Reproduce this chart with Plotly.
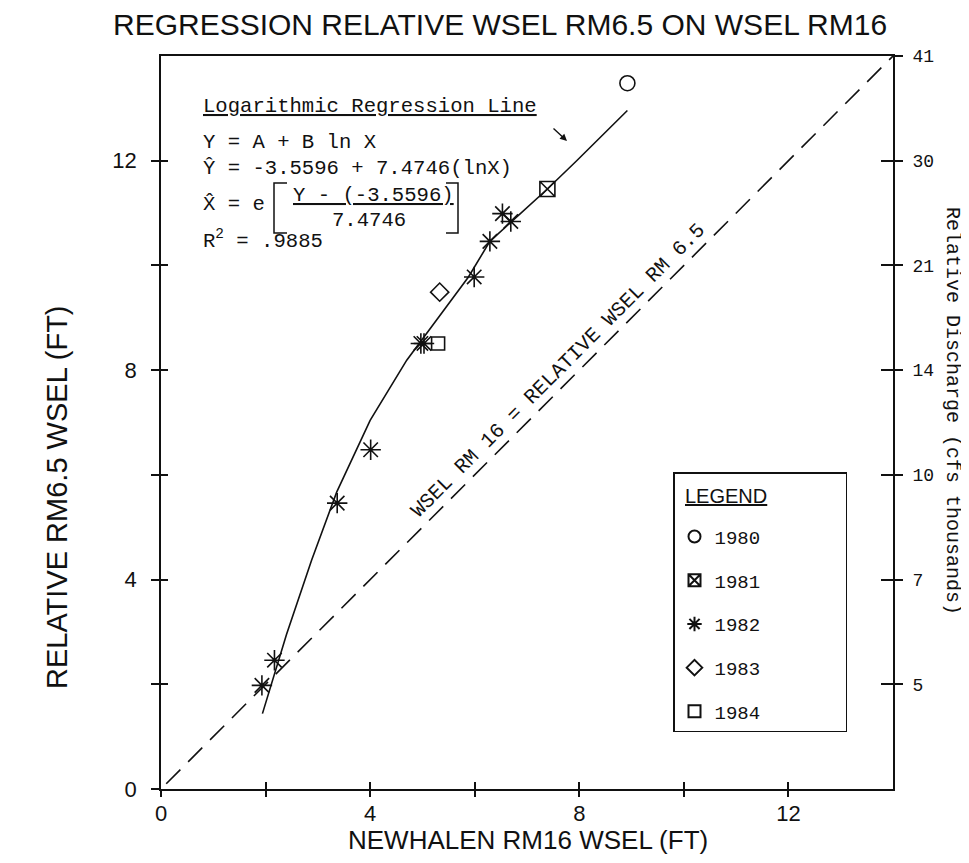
import plotly.graph_objects as go

# ---------------- data ----------------
Y1980_X = [8.92]
Y1980_Y = [13.48]
Y1981_X = [7.39]
Y1981_Y = [11.46]
Y1982_X = [1.93, 2.17, 3.37, 4.01, 4.97, 5.03, 5.99, 6.29, 6.53, 6.69]
Y1982_Y = [1.98, 2.46, 5.46, 6.48, 8.51, 8.51, 9.78, 10.46, 10.99, 10.84]
Y1983_X = [5.33]
Y1983_Y = [9.49]
Y1984_X = [5.30]
Y1984_Y = [8.51]

LINE_X = [1.94, 2.4, 2.88, 3.36, 4.0, 4.7, 5.88, 6.29, 7.39, 7.95, 8.92]
LINE_Y = [1.44, 2.95, 4.37, 5.67, 7.04, 8.19, 9.78, 10.46, 11.46, 12.0, 12.96]

DIAG_X = [0.1, 14]
DIAG_Y = [0.1, 14]

X_TICKS = [0, 2, 4, 6, 8, 10, 12]
X_LABELS = ["0", "", "4", "", "8", "", "12"]
Y_TICKS = [0, 2, 4, 6, 8, 10, 12]
Y_LABELS = ["0", "", "4", "", "8", "", "12"]
Q_TICKS = [2, 4, 6, 8, 10, 12, 14]
Q_LABELS = ["5", "7", "10", "14", "21", "30", "41"]

# ---------------- styling ----------------
BODY = 8                      # default page margin around the plot div
W, H = 969 - BODY, 863 - BODY
# plot area in screen pixels
SX0, SX1, SY0, SY1 = 161, 893, 56, 789
L, T = SX0 - BODY, SY0 - BODY
R, B = W - (SX1 - BODY), H - (SY1 - BODY)
PW, PH = SX1 - SX0, SY1 - SY0
SANS = "Liberation Sans, Arial, sans-serif"
MONO = "Liberation Mono, DejaVu Sans Mono, monospace"
BLACK = "#111111"


def px(xs):
    return (xs - SX0) / PW


def py(ys):
    return (SY1 - ys) / PH


fig = go.Figure()

fig.add_trace(go.Scatter(x=DIAG_X, y=DIAG_Y, mode="lines", showlegend=False,
                         line=dict(color=BLACK, width=1.6, dash="20px,11px"),
                         hoverinfo="skip"))
fig.add_trace(go.Scatter(x=LINE_X, y=LINE_Y, mode="lines", showlegend=False,
                         line=dict(color=BLACK, width=1.6), hoverinfo="skip"))

PAD = "\u00a0" * 7
series = [
    ("1980", Y1980_X, Y1980_Y, "circle-open", 15),
    ("1981", Y1981_X, Y1981_Y, "square-x-open", 15),
    ("1982", Y1982_X, Y1982_Y, "asterisk-open", 17),
    ("1983", Y1983_X, Y1983_Y, "diamond-open", 14),
    ("1984", Y1984_X, Y1984_Y, "square-open", 13),
]
for name, xs, ys, sym, sz in series:
    fig.add_trace(go.Scatter(
        x=xs, y=ys, mode="markers", name=name + PAD, legendgroup=name,
        marker=dict(symbol=sym, size=sz, color=BLACK,
                    line=dict(color=BLACK, width=1.6))))

# dummy traces to realise the overlay axes used for the other tick halves
fig.add_trace(go.Scatter(x=[], y=[], xaxis="x2", yaxis="y3", showlegend=False))
fig.add_trace(go.Scatter(x=[], y=[], xaxis="x", yaxis="y2", showlegend=False))
fig.add_trace(go.Scatter(x=[], y=[], xaxis="x", yaxis="y4", showlegend=False))

axis_common = dict(range=[0, 14], showgrid=False, zeroline=False,
                   linecolor=BLACK, linewidth=1.6, tickcolor=BLACK,
                   tickwidth=1.6)

fig.update_layout(
    width=W, height=H,
    margin=dict(l=L, r=R, t=T, b=B),
    paper_bgcolor="white", plot_bgcolor="white",
    xaxis=dict(**axis_common, showline=True, mirror=True, ticks="inside",
               ticklen=7, tickmode="array", tickvals=X_TICKS,
               ticktext=X_LABELS, ticklabelstandoff=4,
               tickfont=dict(family=SANS, size=22, color=BLACK)),
    xaxis2=dict(**axis_common, overlaying="x", anchor="y", side="bottom",
                showline=False, ticks="outside", ticklen=7, tickmode="array",
                tickvals=X_TICKS, showticklabels=False),
    yaxis=dict(**axis_common, showline=True, ticks="outside", ticklen=8,
               tickmode="array", tickvals=Y_TICKS, ticktext=Y_LABELS,
               ticklabelstandoff=10,
               tickfont=dict(family=SANS, size=22, color=BLACK)),
    yaxis3=dict(**axis_common, overlaying="y", anchor="x2", side="left",
                showline=False, ticks="inside", ticklen=7, tickmode="array",
                tickvals=Y_TICKS, showticklabels=False),
    yaxis2=dict(**axis_common, overlaying="y", anchor="x", side="right",
                showline=True, ticks="outside", ticklen=8, tickmode="array",
                tickvals=Q_TICKS, ticktext=Q_LABELS, ticklabelstandoff=6,
                tickfont=dict(family=MONO, size=18, color=BLACK)),
    yaxis4=dict(**axis_common, overlaying="y", anchor="x", side="right",
                showline=False, ticks="inside", ticklen=12, tickmode="array",
                tickvals=Q_TICKS, showticklabels=False),
    legend=dict(x=px(673), y=py(472), xanchor="left", yanchor="top",
                bordercolor=BLACK, borderwidth=1.5,
                bgcolor="rgba(255,255,255,0)",
                font=dict(family=MONO, size=19, color=BLACK),
                title=dict(text="\u00a0",
                           font=dict(family=SANS, size=34, color=BLACK)),
                tracegroupgap=16, itemsizing="constant"),
    showlegend=True,
)

ann = []
# title
ann.append(dict(text="REGRESSION RELATIVE WSEL RM6.5 ON WSEL RM16",
                xref="paper", yref="paper", x=px(500), y=py(25),
                xanchor="center", yanchor="middle", showarrow=False,
                font=dict(family=SANS, size=30, color=BLACK)))
# legend heading
ann.append(dict(text="<u>LEGEND</u>", xref="paper", yref="paper",
                x=px(683), y=py(496), xanchor="left", yanchor="middle",
                showarrow=False, font=dict(family=SANS, size=20, color=BLACK)))
# axis titles
ann.append(dict(text="NEWHALEN RM16 WSEL (FT)", xref="paper", yref="paper",
                x=px(528), y=py(840), xanchor="center", yanchor="middle",
                showarrow=False, font=dict(family=SANS, size=26, color=BLACK)))
ann.append(dict(text="RELATIVE RM6.5 WSEL (FT)", xref="paper", yref="paper",
                x=px(57), y=py(497), xanchor="center", yanchor="middle",
                textangle=-90, showarrow=False,
                font=dict(family=SANS, size=29, color=BLACK)))
ann.append(dict(text="Relative Discharge (cfs thousands)", xref="paper",
                yref="paper", x=px(953), y=py(411), xanchor="center",
                yanchor="middle", textangle=90, showarrow=False,
                font=dict(family=MONO, size=20, color=BLACK)))

# equation block
eq_font = dict(family=MONO, size=20.6, color=BLACK)


def left_text(t, xs, ys):
    ann.append(dict(text=t, xref="paper", yref="paper", x=px(xs), y=py(ys),
                    xanchor="left", yanchor="middle", showarrow=False,
                    font=eq_font))


left_text("<u>Logarithmic Regression Line</u>", 201, 107)
left_text("Y = A + B ln X", 201, 143)
left_text("\u0176 = -3.5596 + 7.4746(lnX)", 201, 168)
left_text("X\u0302 = e", 201, 204)
left_text("<u>Y - (-3.5596)</u>", 291, 195)
left_text("7.4746", 330, 220)
left_text("R<sup>2</sup> = .9885", 201, 240)

# arrow pointing at the regression line
ann.append(dict(text="", xref="paper", yref="paper", x=px(567), y=py(141),
                ax=-15, ay=-14, showarrow=True, arrowhead=2, arrowsize=1,
                arrowwidth=1.4, arrowcolor=BLACK, standoff=0))

# label along the 1:1 line
ann.append(dict(text="WSEL RM 16 = RELATIVE WSEL RM 6.5", xref="x", yref="y",
                x=7.6, y=8.0, textangle=-45, showarrow=False,
                xanchor="center", yanchor="middle",
                font=dict(family=MONO, size=20.5, color=BLACK)))

fig.update_layout(annotations=ann)

# brackets around the exponent fraction
shapes = []
for xs, xe in ((287, 274), (446, 458)):
    shapes.append(dict(type="path", xref="paper", yref="paper",
                       path=f"M {px(xs)} {py(183)} L {px(xe)} {py(183)} "
                            f"L {px(xe)} {py(233)} L {px(xs)} {py(233)}",
                       line=dict(color=BLACK, width=1.5)))
fig.update_layout(shapes=shapes)

fig.write_html("out.html")
